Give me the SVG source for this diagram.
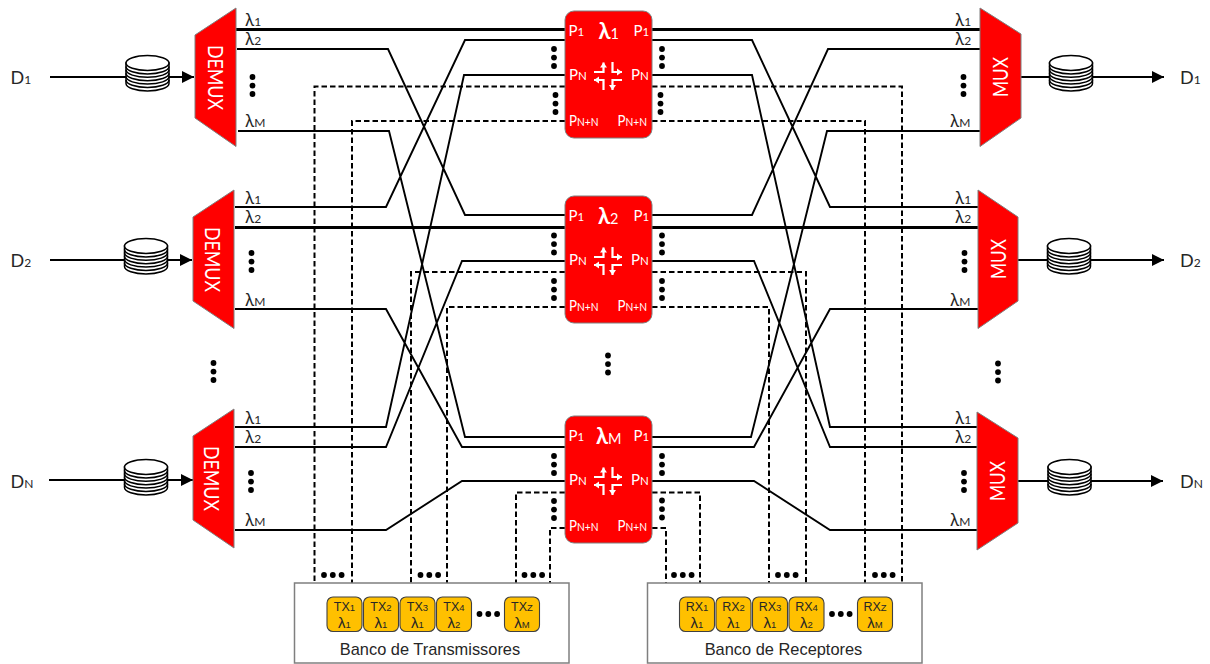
<svg xmlns="http://www.w3.org/2000/svg" xmlns:xlink="http://www.w3.org/1999/xlink" width="1210" height="664" viewBox="0 0 1210 664">
<style>
text{font-family:Lato,"Open Sans","Liberation Sans",sans-serif;fill:#262626}
.s{font-size:12px}
.l{font-size:17px}
.d{font-size:18px}
.p{font-size:15px;fill:#fff}
.p .s{font-size:11.500px}
.b{font-size:22px;font-weight:700;fill:#fff}
.b .s{font-size:14.500px;font-weight:400}
.m{font-size:21px;fill:#fff}
.r{fill:#f00;stroke:#7f7f7f;stroke-width:1}
.t{fill:none;stroke:#000;stroke-width:1.9}
.k{fill:none;stroke:#000;stroke-width:3.2}
.h{fill:none;stroke:#000;stroke-width:2;stroke-dasharray:5.5 3}
.a{fill:none;stroke:#000;stroke-width:1.9;marker-end:url(#ah)}
.c{fill:#ffc000;stroke:#404040;stroke-width:1.1}
.x{fill:#fff;stroke:#7f7f7f;stroke-width:1.5}
.f{font-family:"Liberation Sans",Arial,sans-serif;font-size:12.500px;text-anchor:middle;fill:#262626}
.f .s{font-size:9.500px}
.e{font-size:15px}
.g{font-family:"Liberation Sans",Arial,sans-serif;font-size:16.400px;fill:#262626;text-anchor:middle}
</style>
<defs>
<marker id="ah" markerUnits="userSpaceOnUse" markerWidth="13" markerHeight="13" refX="12" refY="6.5" orient="auto"><path d="M0 .5L12 6.5L0 12.5Z" fill="#000"/></marker>
<marker id="wa" markerUnits="userSpaceOnUse" markerWidth="8" markerHeight="8" refX="5" refY="4" orient="auto"><path d="M0 .5L5 4L0 7.500Z" fill="#fff"/></marker>
<g id="vd"><circle cx="0" cy="0" r="2.9"/><circle cx="0" cy="8.6" r="2.9"/><circle cx="0" cy="17" r="2.9"/></g>
<g id="hd"><circle cx="0" cy="0" r="2.9"/><circle cx="8.8" cy="0" r="2.9"/><circle cx="17.6" cy="0" r="2.9"/></g>
<g id="spool" fill="#fff" stroke="#000" stroke-width="1.5">
<path d="M-21.5 0V20.5A21.5 7.5 0 0 0 21.5 20.5V0Z"/>
<path d="M-21.5 17A21.5 7.5 0 0 0 21.5 17M-21.5 13.6A21.5 7.5 0 0 0 21.5 13.6M-21.5 10.2A21.5 7.5 0 0 0 21.5 10.2M-21.5 6.8A21.5 7.5 0 0 0 21.5 6.8M-21.5 3.4A21.5 7.5 0 0 0 21.5 3.4" fill="none"/>
<ellipse cx="0" cy="0" rx="21.5" ry="7.5"/>
</g>
<g id="cross" fill="none" stroke="#fff" stroke-width="2.2">
<path d="M-14 -4H-4.500V-13.500" marker-end="url(#wa)"/>
<path d="M4.500 -14V-4H14" marker-end="url(#wa)"/>
<path d="M-4.500 14V4H-14" marker-end="url(#wa)"/>
<path d="M14 4H4.500V14" marker-end="url(#wa)"/>
</g>
</defs>
<g id="connectors">
<path class="h" d="M565 86.500H314.500V583M565 121H352V583M652 86.500H902V583M652 121H865V583"/>
<path class="h" d="M565 272H411V583M565 307H447V583M652 272H806V583M652 307H769V583"/>
<path class="h" d="M565 492.500H516V583M565 528H550V583M652 492.500H700V583M652 528H666V583"/>
<path class="k" d="M236 29.500H566M652 29.500H980M235 227.500H566M652 227.500H978"/>
<path class="t" d="M237 49H388L465 215H566M238 131H389L465 437H566M235 207H386L465 40H566M235 309H386L462 447H566M235 427H386L464 75H566M235 447H386L462 261H566M235 530H386L462 481H566"/>
<path class="t" d="M652 40H752L830 207H978M652 75H752L830 427H977M652 215H752L828 49H980M652 261H754L830 447H977M652 437H751L827 131H980M652 447H754L830 309H978M652 481H754L830 530H977"/>
<path class="a" d="M50 77H194"/><path class="a" d="M50 260H192"/><path class="a" d="M49 480H193"/>
<path class="a" d="M1021 77H1164"/><path class="a" d="M1018 260H1164"/><path class="a" d="M1018 481H1163"/>
</g>
<g id="input-1"><text class="d" x="10.500" y="84">D<tspan class="s">1</tspan></text><use href="#spool" x="147.500" y="63"/></g>
<g id="input-2"><text class="d" x="10.500" y="266.500">D<tspan class="s">2</tspan></text><use href="#spool" x="146" y="246"/></g>
<g id="input-n"><text class="d" x="10.500" y="487.500">D<tspan class="s">N</tspan></text><use href="#spool" x="146" y="467"/></g>
<g id="output-1"><use href="#spool" x="1071" y="63"/><text class="d" x="1180" y="84">D<tspan class="s">1</tspan></text></g>
<g id="output-2"><use href="#spool" x="1069" y="246"/><text class="d" x="1180" y="266.500">D<tspan class="s">2</tspan></text></g>
<g id="output-n"><use href="#spool" x="1069.500" y="467"/><text class="d" x="1180" y="487.500">D<tspan class="s">N</tspan></text></g>
<g id="demux-1"><path class="r" d="M236 8V146.500L195 118V35Z"/><text class="m" textLength="65" lengthAdjust="spacingAndGlyphs" transform="translate(207.500 45) rotate(90)">DEMUX</text>
<text class="l" x="245" y="26">λ<tspan class="s">1</tspan></text><text class="l" x="245" y="45">λ<tspan class="s">2</tspan></text><text class="l" x="245" y="127">λ<tspan class="s">M</tspan></text><use href="#vd" x="252.500" y="77"/></g>
<g id="demux-2"><path class="r" d="M234 190V328.500L193 301V217Z"/><text class="m" textLength="65" lengthAdjust="spacingAndGlyphs" transform="translate(205 227) rotate(90)">DEMUX</text>
<text class="l" x="245" y="204">λ<tspan class="s">1</tspan></text><text class="l" x="245" y="223">λ<tspan class="s">2</tspan></text><text class="l" x="245" y="306">λ<tspan class="s">M</tspan></text><use href="#vd" x="251.500" y="253"/></g>
<g id="demux-n"><path class="r" d="M234 409V548L193 520V436Z"/><text class="m" textLength="65" lengthAdjust="spacingAndGlyphs" transform="translate(204 446) rotate(90)">DEMUX</text>
<text class="l" x="245" y="424">λ<tspan class="s">1</tspan></text><text class="l" x="245" y="443">λ<tspan class="s">2</tspan></text><text class="l" x="245" y="526">λ<tspan class="s">M</tspan></text><use href="#vd" x="251" y="473"/></g>
<g id="mux-1"><path class="r" d="M980 8V146.500L1021 118V34Z"/><text class="m" textLength="40" lengthAdjust="spacingAndGlyphs" transform="translate(1008 97) rotate(-90)">MUX</text>
<text class="l" x="955" y="26">λ<tspan class="s">1</tspan></text><text class="l" x="955" y="45">λ<tspan class="s">2</tspan></text><text class="l" x="950" y="127">λ<tspan class="s">M</tspan></text><use href="#vd" x="963.500" y="77"/></g>
<g id="mux-2"><path class="r" d="M978 190V328.500L1018 301V217Z"/><text class="m" textLength="40" lengthAdjust="spacingAndGlyphs" transform="translate(1006 279) rotate(-90)">MUX</text>
<text class="l" x="955" y="204">λ<tspan class="s">1</tspan></text><text class="l" x="955" y="223">λ<tspan class="s">2</tspan></text><text class="l" x="950" y="306">λ<tspan class="s">M</tspan></text><use href="#vd" x="964.500" y="253"/></g>
<g id="mux-n"><path class="r" d="M977 412V550L1018 523V438Z"/><text class="m" textLength="40" lengthAdjust="spacingAndGlyphs" transform="translate(1005 501) rotate(-90)">MUX</text>
<text class="l" x="955" y="424">λ<tspan class="s">1</tspan></text><text class="l" x="955" y="443">λ<tspan class="s">2</tspan></text><text class="l" x="950" y="526">λ<tspan class="s">M</tspan></text><use href="#vd" x="964" y="473"/></g>
<g id="switch-1"><rect class="r" x="565" y="11" width="87" height="127" rx="9"/>
<text class="p" x="568.500" y="35.500">P<tspan class="s">1</tspan></text><text class="p" x="633.500" y="35.500">P<tspan class="s">1</tspan></text>
<text class="p" x="569" y="79.500">P<tspan class="s">N</tspan></text><text class="p" x="631" y="79.500">P<tspan class="s">N</tspan></text>
<text class="p" x="569" y="126" textLength="29.500" lengthAdjust="spacingAndGlyphs">P<tspan class="s">N+N</tspan></text><text class="p" x="617.500" y="126" textLength="29.500" lengthAdjust="spacingAndGlyphs">P<tspan class="s">N+N</tspan></text>
<text class="b" x="598.500" y="38.500">λ<tspan class="s">1</tspan></text><use href="#cross" x="608" y="76"/></g>
<g id="switch-2"><rect class="r" x="565" y="196" width="87" height="127" rx="9"/>
<text class="p" x="568.500" y="220.500">P<tspan class="s">1</tspan></text><text class="p" x="633.500" y="220.500">P<tspan class="s">1</tspan></text>
<text class="p" x="569" y="265">P<tspan class="s">N</tspan></text><text class="p" x="631" y="265">P<tspan class="s">N</tspan></text>
<text class="p" x="569" y="311" textLength="29.500" lengthAdjust="spacingAndGlyphs">P<tspan class="s">N+N</tspan></text><text class="p" x="617.500" y="311" textLength="29.500" lengthAdjust="spacingAndGlyphs">P<tspan class="s">N+N</tspan></text>
<text class="b" x="598" y="223.500">λ<tspan class="s">2</tspan></text><use href="#cross" x="608" y="261"/></g>
<g id="switch-m"><rect class="r" x="565" y="416" width="87" height="127" rx="9"/>
<text class="p" x="568.500" y="440.500">P<tspan class="s">1</tspan></text><text class="p" x="633.500" y="440.500">P<tspan class="s">1</tspan></text>
<text class="p" x="569" y="485">P<tspan class="s">N</tspan></text><text class="p" x="631" y="485">P<tspan class="s">N</tspan></text>
<text class="p" x="569" y="531" textLength="29.500" lengthAdjust="spacingAndGlyphs">P<tspan class="s">N+N</tspan></text><text class="p" x="617.500" y="531" textLength="29.500" lengthAdjust="spacingAndGlyphs">P<tspan class="s">N+N</tspan></text>
<text class="b" x="596" y="443.500">λ<tspan class="s">M</tspan></text><use href="#cross" x="608" y="481"/></g>
<g id="dots">
<use href="#vd" x="213.500" y="363"/><use href="#vd" x="608" y="355.500"/><use href="#vd" x="998" y="363.500"/>
<use href="#vd" x="554" y="49"/><use href="#vd" x="555.500" y="95"/><use href="#vd" x="662" y="49"/><use href="#vd" x="660.500" y="95"/>
<use href="#vd" x="554" y="235.500"/><use href="#vd" x="554" y="281"/><use href="#vd" x="662" y="235.500"/><use href="#vd" x="662" y="281"/>
<use href="#vd" x="554" y="456"/><use href="#vd" x="554" y="501"/><use href="#vd" x="662" y="456"/><use href="#vd" x="662" y="500.500"/>
<use href="#hd" x="324" y="575"/><use href="#hd" x="420.500" y="575"/><use href="#hd" x="524.500" y="575"/>
<use href="#hd" x="674" y="575"/><use href="#hd" x="778" y="575"/><use href="#hd" x="875" y="575"/>
</g>
<g id="tx-bank"><rect class="x" x="294.500" y="583" width="274.500" height="80"/>
<text class="g" x="430" y="655">Banco de Transmissores</text><use href="#hd" x="479.500" y="614"/></g>
<g id="tx-1"><rect class="c" x="327" y="597" width="35" height="34.500" rx="6"/><text class="f" x="344.500" y="610.500">TX<tspan class="s">1</tspan></text><text class="f e" x="344.500" y="627.500">λ<tspan class="s">1</tspan></text></g>
<g id="tx-2"><rect class="c" x="363.500" y="597" width="35" height="34.500" rx="6"/><text class="f" x="381" y="610.500">TX<tspan class="s">2</tspan></text><text class="f e" x="381" y="627.500">λ<tspan class="s">1</tspan></text></g>
<g id="tx-3"><rect class="c" x="400" y="597" width="35" height="34.500" rx="6"/><text class="f" x="417.500" y="610.500">TX<tspan class="s">3</tspan></text><text class="f e" x="417.500" y="627.500">λ<tspan class="s">1</tspan></text></g>
<g id="tx-4"><rect class="c" x="436.500" y="597" width="35" height="34.500" rx="6"/><text class="f" x="454" y="610.500">TX<tspan class="s">4</tspan></text><text class="f e" x="454" y="627.500">λ<tspan class="s">2</tspan></text></g>
<g id="tx-z"><rect class="c" x="504.500" y="597" width="35" height="34.500" rx="6"/><text class="f" x="522" y="610.500">TX<tspan class="s">Z</tspan></text><text class="f e" x="522" y="627.500">λ<tspan class="s">M</tspan></text></g>
<g id="rx-bank"><rect class="x" x="647.500" y="583" width="274.500" height="80"/>
<text class="g" x="783.500" y="655">Banco de Receptores</text><use href="#hd" x="832" y="614"/></g>
<g id="rx-1"><rect class="c" x="679.500" y="597" width="35" height="34.500" rx="6"/><text class="f" x="697" y="610.500">RX<tspan class="s">1</tspan></text><text class="f e" x="697" y="627.500">λ<tspan class="s">1</tspan></text></g>
<g id="rx-2"><rect class="c" x="716" y="597" width="35" height="34.500" rx="6"/><text class="f" x="733.500" y="610.500">RX<tspan class="s">2</tspan></text><text class="f e" x="733.500" y="627.500">λ<tspan class="s">1</tspan></text></g>
<g id="rx-3"><rect class="c" x="752.500" y="597" width="35" height="34.500" rx="6"/><text class="f" x="770" y="610.500">RX<tspan class="s">3</tspan></text><text class="f e" x="770" y="627.500">λ<tspan class="s">1</tspan></text></g>
<g id="rx-4"><rect class="c" x="789" y="597" width="35" height="34.500" rx="6"/><text class="f" x="806.500" y="610.500">RX<tspan class="s">4</tspan></text><text class="f e" x="806.500" y="627.500">λ<tspan class="s">2</tspan></text></g>
<g id="rx-z"><rect class="c" x="857.500" y="597" width="35" height="34.500" rx="6"/><text class="f" x="875" y="610.500">RX<tspan class="s">Z</tspan></text><text class="f e" x="875" y="627.500">λ<tspan class="s">M</tspan></text></g>
</svg>
